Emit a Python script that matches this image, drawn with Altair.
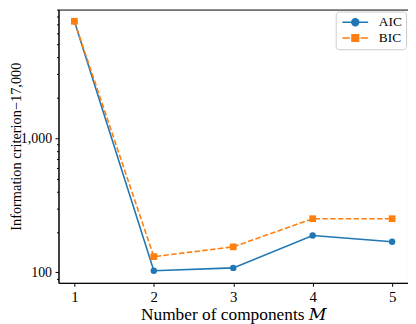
import altair as alt
import pandas as pd

components = [1, 2, 3, 4, 5]
aic = [7400, 103, 108, 188, 169]
bic = [7410, 131, 155, 251, 251]
series_names = ["AIC", "BIC"]
series_colors = ["#1f77b4", "#ff7f0e"]
y_ticks = [90, 100, 200, 300, 400, 500, 600, 700, 800, 900, 1000,
           2000, 3000, 4000, 5000, 6000, 7000, 8000, 9000]
x_ticks = [1, 2, 3, 4, 5]

rows = []
for m, a, b in zip(components, aic, bic):
    rows.append({"M": m, "value": a, "series": "AIC"})
    rows.append({"M": m, "value": b, "series": "BIC"})
df = pd.DataFrame(rows)

FONT = "Liberation Serif, DejaVu Serif, serif"

x = alt.X("M:Q", scale=alt.Scale(domain=[0.8, 5.2], nice=False, zero=False),
          axis=alt.Axis(values=x_ticks, format="d", title="Number of components 𝑀",
                        labelFont=FONT, titleFont=FONT,
                        labelFontSize=15, titleFontSize=17.5, titleFontWeight="normal",
                        tickSize=3.5, labelPadding=3, titlePadding=2, grid=False))
y = alt.Y("value:Q", scale=alt.Scale(type="log", domain=[83.6, 9057], nice=False, zero=False),
          axis=alt.Axis(values=y_ticks, grid=False,
                        labelFont=FONT, titleFont=FONT,
                        labelExpr="datum.value == 100 || datum.value == 1000 ? format(datum.value, ',') : ''",
                        tickSize={"condition": {"test": "datum.value == 100 || datum.value == 1000", "value": 3.5}, "value": 2},
                        labelFontSize=14, titleFontSize=14.5, titleFontWeight="normal",
                        labelPadding=3.5, titlePadding=-3,
                        title="Information criterion−17,000"))

base = alt.Chart(df)
is_aic = alt.datum.series == "AIC"
is_bic = alt.datum.series == "BIC"

line_aic = base.transform_filter(is_aic).mark_line(strokeWidth=1.6, color=series_colors[0]).encode(x=x, y=y)
line_bic = base.transform_filter(is_bic).mark_line(strokeWidth=1.6, strokeDash=[5.5, 2.4], color=series_colors[1]).encode(x=x, y=y)
pt_aic = base.transform_filter(is_aic).mark_point(shape="circle", filled=True, opacity=1, size=42, color=series_colors[0]).encode(x=x, y=y)
pt_bic = base.transform_filter(is_bic).mark_point(shape="square", filled=True, opacity=1, size=46, color=series_colors[1]).encode(x=x, y=y)

aic_path = "M-1,0H5.5M3.125,0A0.875,0.875,0,1,1,1.375,0A0.875,0.875,0,1,1,3.125,0Z"
bic_path = "M-1,0H0.9M3.6,0H5.5M1.41,-0.84H3.09V0.84H1.41Z"

series_scale = alt.Scale(domain=series_names, range=series_colors)
legend_layer = base.mark_point(filled=False, opacity=0, size=64).encode(
    x=x, y=y,
    color=alt.Color("series:N", scale=series_scale,
                    legend=alt.Legend(title=None, orient="top-right", offset=2,
                                      symbolOpacity=1, symbolSize=64, symbolStrokeWidth=1.5,
                                      labelFont=FONT, labelFontSize=13.5, labelOffset=26,
                                      padding=4, rowPadding=1, strokeColor="#cccccc",
                                      fillColor="white", cornerRadius=3)),
    fill=alt.Fill("series:N", scale=series_scale),
    shape=alt.Shape("series:N", scale=alt.Scale(domain=series_names, range=[aic_path, bic_path])),
)

chart = alt.layer(line_aic, line_bic, pt_aic, pt_bic, legend_layer).properties(
    width=353, height=276,
    autosize=alt.AutoSizeParams(type="none"),
    padding={"left": 51, "top": 0, "right": 0, "bottom": 42},
).configure(background="white").configure_view(stroke="black", strokeWidth=1).configure_axis(
    labelFont=FONT, titleFont=FONT, labelColor="black", titleColor="black",
    domainColor="black", tickColor="black", domainWidth=1, tickWidth=1,
)

chart.save("out.html", embed_options={"renderer": "svg", "actions": False})
